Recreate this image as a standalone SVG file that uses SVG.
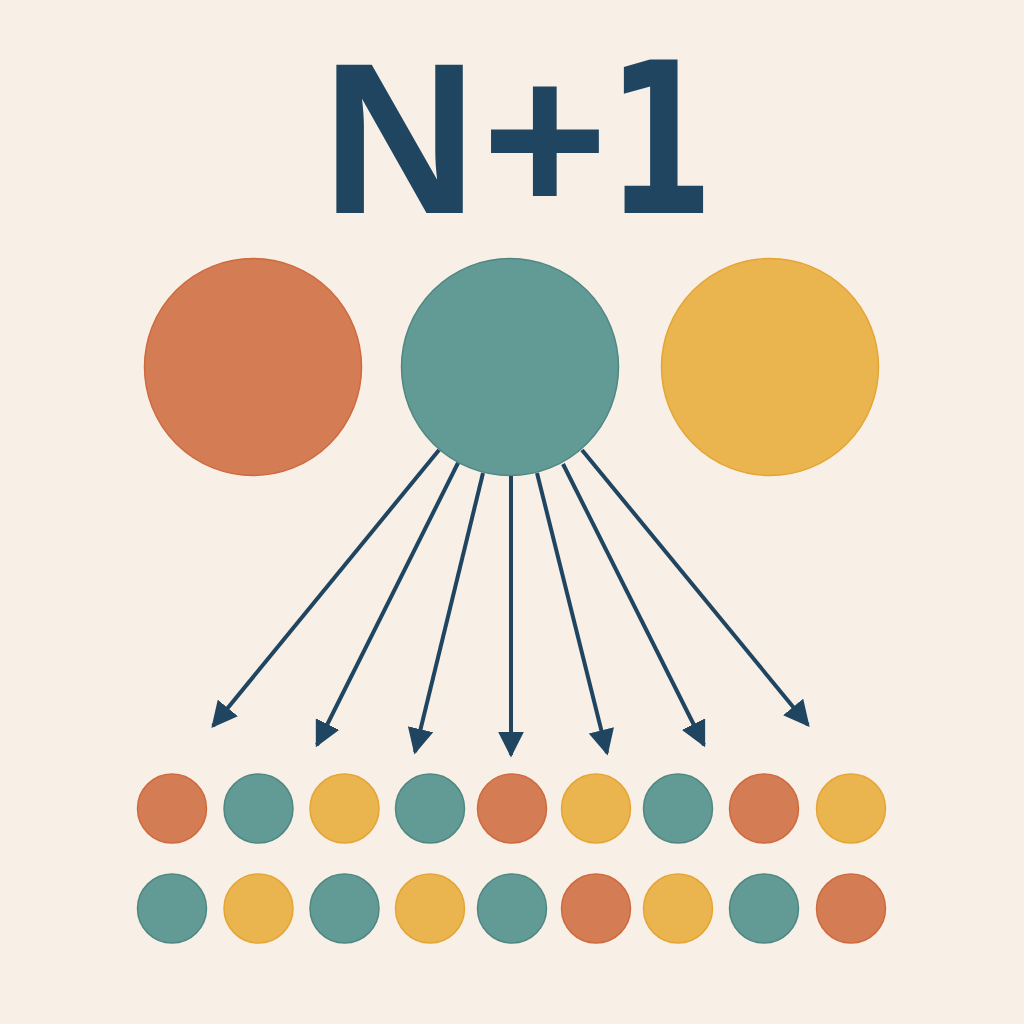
<svg xmlns="http://www.w3.org/2000/svg" width="1024" height="1024" viewBox="0 0 1024 1024">
<defs>
<style>
.o{fill:#d47c54;stroke:#cf6a3e;stroke-width:1.5}
.t{fill:#629a96;stroke:#4f8783;stroke-width:1.5}
.y{fill:#eab44f;stroke:#e5a535;stroke-width:1.5}
.a{stroke:#1f4560;stroke-width:4;fill:none;marker-end:url(#ah)}
.title{font-family:"Liberation Sans",Arial,sans-serif;font-weight:bold;fill:#1f4560}
</style>
<marker id="ah" viewBox="0 0 10 10" refX="9" refY="5" markerUnits="userSpaceOnUse" markerWidth="26" markerHeight="26" orient="auto">
<path d="M0,0 L10,5 L0,10 z" fill="#1f4560"/>
</marker>
</defs>
<rect width="1024" height="1024" fill="#f8f0e6"/>
<g id="title">
<text class="title" font-size="215" y="213"><tspan x="322">N</tspan><tspan x="482">+</tspan></text>
<text class="title" font-size="211" transform="translate(619,213) scale(0.73,1)" x="-17" y="0" style="font-family:'DejaVu Sans',sans-serif">1</text>
</g>
<g id="big-left"><circle class="o" cx="253" cy="367" r="108.5"/></g>
<g id="big-middle"><circle class="t" cx="510" cy="367" r="108.5"/></g>
<g id="big-right"><circle class="y" cx="770" cy="367" r="108.5"/></g>
<g id="connectors">
<line class="a" x1="439" y1="450" x2="213" y2="726"/>
<line class="a" x1="458" y1="463" x2="317" y2="745"/>
<line class="a" x1="483" y1="473" x2="415" y2="752"/>
<line class="a" x1="511" y1="476" x2="511" y2="755"/>
<line class="a" x1="537" y1="473" x2="607" y2="753"/>
<line class="a" x1="563" y1="464" x2="704" y2="745"/>
<line class="a" x1="582" y1="450" x2="808" y2="725"/>
</g>
<g id="row1">
<circle class="o" cx="172" cy="808.5" r="34.5"/>
<circle class="t" cx="258.5" cy="808.5" r="34.5"/>
<circle class="y" cx="344.5" cy="808.5" r="34.5"/>
<circle class="t" cx="430" cy="808.5" r="34.5"/>
<circle class="o" cx="512" cy="808.5" r="34.5"/>
<circle class="y" cx="596" cy="808.5" r="34.5"/>
<circle class="t" cx="678" cy="808.5" r="34.5"/>
<circle class="o" cx="764" cy="808.5" r="34.5"/>
<circle class="y" cx="851" cy="808.5" r="34.5"/>
</g>
<g id="row2">
<circle class="t" cx="172" cy="908.5" r="34.5"/>
<circle class="y" cx="258.5" cy="908.5" r="34.5"/>
<circle class="t" cx="344.5" cy="908.5" r="34.5"/>
<circle class="y" cx="430" cy="908.5" r="34.5"/>
<circle class="t" cx="512" cy="908.5" r="34.5"/>
<circle class="o" cx="596" cy="908.5" r="34.5"/>
<circle class="y" cx="678" cy="908.5" r="34.5"/>
<circle class="t" cx="764" cy="908.5" r="34.5"/>
<circle class="o" cx="851" cy="908.5" r="34.5"/>
</g>
</svg>
